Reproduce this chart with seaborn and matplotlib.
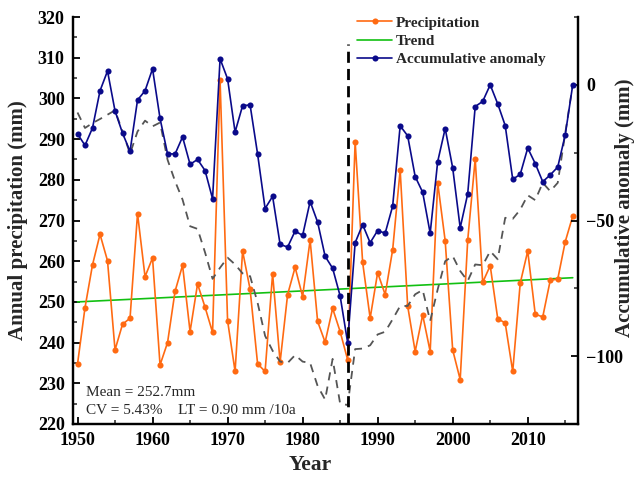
import numpy as np
import pandas as pd
import matplotlib
matplotlib.use("Agg")
import matplotlib.pyplot as plt
from matplotlib.lines import Line2D
from matplotlib.ticker import MultipleLocator
import seaborn as sns

# ---- data -------------------------------------------------------------
years = list(range(1950, 2017))

precipitation = [
    234.7, 248.6, 259.1, 266.6, 260.1, 238.2, 244.5, 246.0, 271.7, 256.2,
    260.8, 234.5, 240.0, 252.6, 259.0, 242.7, 254.4, 248.7, 242.5, 304.5,
    245.4, 232.9, 262.5, 253.1, 234.8, 232.9, 256.9, 235.2, 251.8, 258.5,
    251.3, 265.2, 245.2, 240.1, 248.4, 242.7, 235.8, 289.4, 259.7, 246.0,
    257.2, 251.8, 262.8, 282.4, 249.0, 237.8, 246.8, 237.8, 279.3, 265.0,
    238.2, 230.9, 265.1, 285.1, 254.8, 258.9, 245.9, 244.8, 232.9, 254.6,
    262.5, 247.0, 246.3, 255.3, 255.6, 264.8, 271.1,
]

accumulative_anomaly = [
    -18.1, -22.3, -15.9, -2.2, 5.1, -9.6, -17.8, -24.5, -5.6, -2.2,
    5.9, -12.4, -25.4, -25.5, -19.2, -29.3, -27.5, -31.6, -42.0, 9.6,
    2.2, -17.4, -7.7, -7.4, -25.5, -45.6, -41.1, -58.8, -59.8, -53.9,
    -55.5, -43.0, -50.6, -63.2, -67.6, -77.8, -95.0, -58.2, -51.5, -58.2,
    -53.7, -54.7, -44.7, -15.1, -18.8, -33.8, -39.6, -54.7, -28.3, -16.1,
    -30.6, -52.7, -40.2, -8.0, -6.1, 0.0, -7.0, -15.0, -34.8, -33.0,
    -23.3, -29.0, -35.7, -33.2, -30.3, -18.4, 0.0,
]

smoothed_anomaly = [
    -10.2, -15.9, -14.1, -12.6, -11.0, -9.4, -17.2, -25.4, -17.2, -13.2,
    -15.3, -13.9, -27.6, -35.5, -42.3, -52.1, -53.1, -61.8, -71.5, -67.4,
    -63.7, -66.2, -69.5, -70.5, -80.3, -92.5, -98.0, -102.0, -102.5, -99.6,
    -102.0, -102.5, -111.0, -116.0, -101.0, -117.5, -118.0, -97.4, -97.2, -96.0,
    -92.0, -91.0, -86.4, -81.5, -81.5, -77.2, -75.6, -87.0, -75.4, -65.0,
    -63.1, -68.6, -72.3, -66.2, -66.5, -61.3, -64.3, -49.0, -49.4, -46.0,
    -40.7, -42.5, -36.1, -39.2, -36.1, -17.8, 0.0,
]

trend_start = 250.0          # fitted value in 1950 (mm)
trend_rate = 0.90            # mm per 10 years
mean_precip = 252.7
cv_percent = 5.43
change_year = 1986

df = pd.DataFrame({
    "year": years,
    "precip": precipitation,
    "anomaly": accumulative_anomaly,
    "smoothed": smoothed_anomaly,
})
trend_years = [years[0], years[-1]]
trend_df = pd.DataFrame({
    "year": trend_years,
    "trend": [trend_start + trend_rate / 10 * (y - years[0]) for y in trend_years],
})

# ---- style ------------------------------------------------------------
sns.set_style("ticks")
plt.rcParams["font.family"] = ["Liberation Serif", "DejaVu Serif"]
plt.rcParams["font.weight"] = "bold"
plt.rcParams["axes.labelweight"] = "bold"

ORANGE = "#FF6A12"
NAVY = "#0A0A8A"
GREEN = "#12C012"
GREY = "#555555"

W, H = 635, 479
fig = plt.figure(figsize=(W / 100, H / 100), dpi=100)
left, right, top, bottom = 73, 578, 17, 424
pw, ph = right - left, bottom - top
ax = fig.add_axes([left / W, 1 - bottom / H, pw / W, ph / H])
ax2 = ax.twinx()

# ---- series -----------------------------------------------------------
sns.lineplot(data=df, x="year", y="precip", ax=ax, color=ORANGE, lw=1.2,
             marker="o", markersize=4.4, markeredgewidth=0, zorder=3)
sns.lineplot(data=trend_df, x="year", y="trend", ax=ax, color=GREEN, lw=1.2, zorder=2)

sns.lineplot(data=df, x="year", y="smoothed", ax=ax2, color=GREY, lw=1.3, zorder=1)
ax2.lines[-1].set_dashes((4.5, 3.5))
sns.lineplot(data=df, x="year", y="anomaly", ax=ax2, color=NAVY, lw=1.2,
             marker="o", markersize=4.4, markeredgewidth=0, zorder=3)

ax2.axvline(change_year, ymin=0, ymax=(bottom - 44) / ph, color="black",
            lw=2.0, dashes=(4, 2.2), zorder=5)

# ---- axes -------------------------------------------------------------
ax.set_xlim(1949.4, 2016.7)
ax.set_ylim(220, 320)
ax2.set_ylim(-125, 25)

ax.xaxis.set_major_locator(MultipleLocator(10))
ax.xaxis.set_minor_locator(MultipleLocator(5))
ax.yaxis.set_major_locator(MultipleLocator(10))
ax.yaxis.set_minor_locator(MultipleLocator(5))
ax2.yaxis.set_major_locator(MultipleLocator(50))
ax2.yaxis.set_minor_locator(MultipleLocator(25))

for a in (ax, ax2):
    a.tick_params(which="major", direction="in", length=5, width=1.3,
                  labelsize=13, colors="black", pad=6)
    a.tick_params(which="minor", direction="in", length=3, width=1.1)
    a.spines["top"].set_visible(False)
    for s in ("left", "right", "bottom"):
        a.spines[s].set_linewidth(1.6)
        a.spines[s].set_color("black")

ax.set_xlabel("Year", fontsize=15.5)
ax.xaxis.set_label_coords((310 - left) / pw, -(465 - bottom) / ph)
ax.xaxis.label.set_va("center")

ax.set_ylabel("Annual precipitation (mm)", fontsize=15)
ax.yaxis.set_label_coords(-(left - 18.5) / pw, 0.5)
ax.yaxis.label.set_va("center")

ax2.set_ylabel("Accumulative anomaly (mm)", fontsize=15)
ax2.yaxis.set_label_coords((625 - left) / pw, (bottom - 208) / ph)
ax2.yaxis.label.set_va("center")
ax2.yaxis.label.set_rotation(90)

# ---- legend -----------------------------------------------------------
handles = [
    Line2D([], [], color=ORANGE, lw=1.2, marker="o", markersize=4.4, markeredgewidth=0),
    Line2D([], [], color=GREEN, lw=1.2),
    Line2D([], [], color=NAVY, lw=1.2, marker="o", markersize=4.4, markeredgewidth=0),
]
fig.legend(handles, ["Precipitation", "Trend", "Accumulative anomaly"],
           loc="upper left", bbox_to_anchor=(357 / W, 1 - 16 / H),
           bbox_transform=fig.transFigure, frameon=False, fontsize=11,
           handlelength=2.3, handletextpad=0.25, labelspacing=0.3,
           borderpad=0, borderaxespad=0, numpoints=1)

# ---- statistics -------------------------------------------------------
fig.text(86 / W, 1 - 392 / H, f"Mean = {mean_precip}mm", fontsize=11,
         fontweight="normal", va="center", ha="left")
fig.text(86 / W, 1 - 411 / H,
         f"CV = {cv_percent:.2f}%    LT = {trend_rate:.2f} mm /10a", fontsize=11,
         fontweight="normal", va="center", ha="left")

fig.savefig("out.png", dpi=100)
